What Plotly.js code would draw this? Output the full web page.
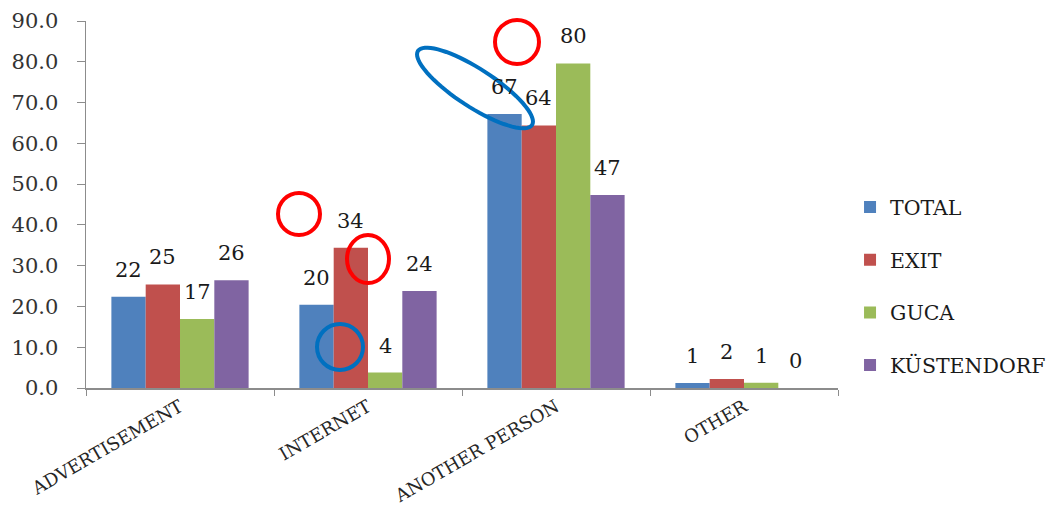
<!DOCTYPE html>
<html>
<head>
<meta charset="utf-8">
<script src="https://cdn.plot.ly/plotly-3.0.1.min.js"></script>
<style>html,body{margin:0;padding:0;background:#fff;}#chart{width:1054px;height:508px;}</style>
</head>
<body>
<div id="chart"></div>
<script>
const categories = ["ADVERTISEMENT", "INTERNET", "ANOTHER PERSON", "OTHER"];
const seriesNames = ["TOTAL", "EXIT", "GUCA", "KÜSTENDORF"];
const total = [22.4, 20.4, 67.2, 1.2];
const exitVals = [25.4, 34.4, 64.4, 2.2];
const guca = [16.9, 3.8, 79.6, 1.3];
const kustendorf = [26.4, 23.8, 47.3, 0];
const yTicks = [0, 10, 20, 30, 40, 50, 60, 70, 80, 90];

const colors = ["#4F81BD", "#C0504D", "#9BBB59", "#8064A2"];
const series = [total, exitVals, guca, kustendorf];
const FONT = "DejaVu Serif, serif";
const bargap = 0.27;

const traces = series.map((vals, i) => ({
  type: "bar",
  name: seriesNames[i],
  x: categories,
  y: vals,
  marker: {color: colors[i]},
  legendgroup: "g" + i,
  hoverinfo: "x+y+name"
}));

// value labels above bars
const annotations = [];
const barW = (1 - bargap) / series.length;
series.forEach((vals, i) => {
  vals.forEach((v, j) => {
    annotations.push({
      x: j + (i - (series.length - 1) / 2) * barW,
      y: v,
      xref: "x", yref: "y",
      text: String(Math.round(v)),
      showarrow: false,
      yanchor: "middle",
      yshift: 27,
      font: {family: FONT, size: 21, color: "#1a1a1a"}
    });
  });
});

// highlight marks (decorations) in pixel space converted to paper space
const L = 86, R = 838, T = 21, B = 388;
const px = x => (x - L) / (R - L);
const py = y => (B - y) / (B - T);
const rings = [
  {cx: 299, cy: 214, rx: 21, ry: 21, c: "#FF0000"},
  {cx: 368, cy: 259, rx: 21, ry: 24, c: "#FF0000"},
  {cx: 517, cy: 42, rx: 22, ry: 22, c: "#FF0000"},
  {cx: 340, cy: 347, rx: 23, ry: 23, c: "#0070C0"}
];
const shapes = rings.map(r => ({
  type: "circle", xref: "paper", yref: "paper",
  x0: px(r.cx - r.rx), x1: px(r.cx + r.rx),
  y0: py(r.cy + r.ry), y1: py(r.cy - r.ry),
  line: {color: r.c, width: 4}
}));
// rotated blue ellipse
(function(){
  const cx = 475, cy = 88, a = 68, b = 19, ang = 33 * Math.PI / 180;
  let d = "";
  for (let k = 0; k <= 72; k++) {
    const t = k / 72 * 2 * Math.PI;
    const ex = a * Math.cos(t), ey = b * Math.sin(t);
    const X = cx + ex * Math.cos(ang) - ey * Math.sin(ang);
    const Y = cy + ex * Math.sin(ang) + ey * Math.cos(ang);
    d += (k === 0 ? "M" : "L") + px(X).toFixed(5) + "," + py(Y).toFixed(5);
  }
  d += "Z";
  shapes.push({type: "path", xref: "paper", yref: "paper", path: d,
    line: {color: "#0070C0", width: 4}});
})();

const layout = {
  width: 1054, height: 508,
  margin: {l: L, r: 1054 - R, t: T, b: 508 - B, pad: 0, autoexpand: false},
  paper_bgcolor: "#fff", plot_bgcolor: "#fff",
  barmode: "group", bargap: bargap, bargroupgap: 0,
  font: {family: FONT, color: "#222"},
  showlegend: true,
  legend: {
    x: 1.016, xanchor: "left", y: 0.547, yanchor: "top",
    font: {family: FONT, size: 20.5, color: "#1a1a1a"},
    tracegroupgap: 23, bgcolor: "rgba(0,0,0,0)"
  },
  xaxis: {
    type: "category",
    showline: true, linecolor: "#8c8c8c", linewidth: 1.5,
    ticks: "outside", tickson: "boundaries", ticklen: 6, tickcolor: "#8c8c8c",
    tickangle: -30,
    tickfont: {family: FONT, size: 18, color: "#262626"},
    showgrid: false, zeroline: false
  },
  yaxis: {
    range: [0, 90], tickvals: yTicks, tickformat: ".1f",
    showline: true, linecolor: "#8c8c8c", linewidth: 1.5,
    ticks: "outside", ticklen: 8, tickcolor: "#8c8c8c",
    ticklabelstandoff: 14,
    tickfont: {family: FONT, size: 21, color: "#333"},
    showgrid: false, zeroline: false
  },
  annotations: annotations,
  shapes: shapes
};

Plotly.newPlot("chart", traces, layout, {displayModeBar: false, staticPlot: true});
</script>
</body>
</html>
